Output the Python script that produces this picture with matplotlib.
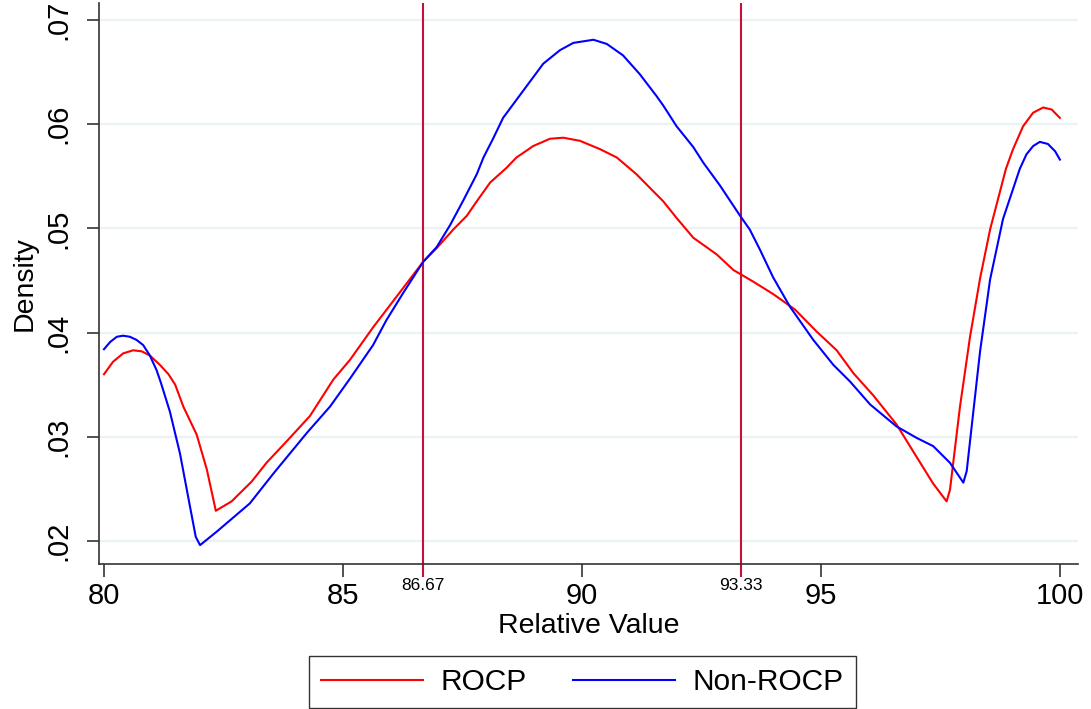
import numpy as np
import matplotlib.pyplot as plt

plt.rcParams['font.family'] = ['Liberation Sans', 'DejaVu Sans']

# ROCP density
rocp_x = [80.0, 80.19, 80.40, 80.61, 80.79, 80.96, 81.17, 81.35, 81.49, 81.66,
          81.94, 82.15, 82.34, 82.67, 83.09, 83.40, 83.89, 84.31, 84.80, 85.15,
          85.63, 85.98, 86.33, 86.68, 86.96, 87.31, 87.59, 87.80, 88.08, 88.42,
          88.63, 88.98, 89.33, 89.61, 89.96, 90.38, 90.73, 91.14, 91.70, 91.98,
          92.33, 92.82, 93.17, 93.58, 94.00, 94.46, 94.91, 95.33, 95.68, 96.09,
          96.58, 96.93, 97.35, 97.63, 97.70, 97.91, 98.12, 98.33, 98.54, 98.87,
          99.02, 99.23, 99.44, 99.65, 99.83, 100.0]
rocp_y = [0.0360, 0.0372, 0.0380, 0.0383, 0.0382, 0.0378, 0.0369, 0.0360, 0.0350, 0.0329,
          0.0302, 0.0269, 0.0229, 0.0238, 0.0257, 0.0275, 0.0299, 0.0320, 0.0355, 0.0374,
          0.0405, 0.0426, 0.0447, 0.0468, 0.0481, 0.0499, 0.0512, 0.0526, 0.0544, 0.0558,
          0.0568, 0.0579, 0.0586, 0.0587, 0.0584, 0.0576, 0.0568, 0.0552, 0.0526, 0.0510,
          0.0491, 0.0475, 0.0460, 0.0449, 0.0437, 0.0422, 0.0401, 0.0383, 0.0361, 0.0340,
          0.0312, 0.0286, 0.0255, 0.0238, 0.0249, 0.0329, 0.0396, 0.0452, 0.0499, 0.0557,
          0.0576, 0.0598, 0.0611, 0.0616, 0.0614, 0.0606]

# Non-ROCP density
non_x = [80.0, 80.13, 80.27, 80.40, 80.54, 80.68, 80.82, 80.96, 81.10, 81.19,
         81.38, 81.59, 81.80, 81.92, 82.01, 82.36, 83.05, 83.55, 84.25, 84.73,
         85.15, 85.63, 85.91, 86.26, 86.68, 86.96, 87.24, 87.52, 87.80, 87.94,
         88.14, 88.35, 88.77, 89.19, 89.54, 89.82, 90.24, 90.52, 90.86, 91.21,
         91.56, 91.70, 91.98, 92.33, 92.54, 92.89, 93.31, 93.51, 93.72, 94.00,
         94.35, 94.84, 95.26, 95.61, 96.03, 96.58, 97.00, 97.35, 97.70, 97.98,
         98.05, 98.33, 98.54, 98.81, 99.16, 99.30, 99.44, 99.58, 99.75, 99.90,
         100.0]
non_y = [0.0384, 0.0391, 0.0396, 0.0397, 0.0396, 0.0393, 0.0388, 0.0378, 0.0364, 0.0352,
         0.0324, 0.0284, 0.0233, 0.0204, 0.0196, 0.0209, 0.0236, 0.0265, 0.0304, 0.0329,
         0.0356, 0.0388, 0.0412, 0.0438, 0.0468, 0.0482, 0.0503, 0.0527, 0.0552, 0.0568,
         0.0586, 0.0606, 0.0632, 0.0658, 0.0671, 0.0678, 0.0681, 0.0677, 0.0666, 0.0648,
         0.0627, 0.0618, 0.0598, 0.0578, 0.0563, 0.0541, 0.0512, 0.0499, 0.0480, 0.0453,
         0.0425, 0.0393, 0.0369, 0.0353, 0.0331, 0.0310, 0.0299, 0.0291, 0.0275, 0.0256,
         0.0267, 0.0382, 0.0451, 0.0509, 0.0557, 0.0571, 0.0579, 0.0583, 0.0581, 0.0574,
         0.0566]

cutoffs = [86.67, 93.33]
cut_labels = ['86.67', '93.33']
x_ticks = [80, 85, 90, 95, 100]
y_ticks = [0.02, 0.03, 0.04, 0.05, 0.06, 0.07]
y_labels = ['.02', '.03', '.04', '.05', '.06', '.07']

cut_color = '#C4103A'

fig = plt.figure(figsize=(10.91, 7.09), dpi=100)
ax = fig.add_axes([0.0907, 0.2045, 0.8973, 0.7913])

for y in y_ticks:
    ax.axhline(y, color='#EAF2F3', lw=1.6, zorder=0)
for c in cutoffs:
    ax.axvline(c, color=cut_color, lw=1.5, zorder=1)

ax.plot(rocp_x, rocp_y, color='#FF0000', lw=1.5, label='ROCP', zorder=3)
ax.plot(non_x, non_y, color='#0000FF', lw=1.5, label='Non-ROCP', zorder=3)

ax.set_xlim(79.895, 100.377)
ax.set_ylim(0.01779, 0.07163)

ax.set_xticks(x_ticks)
ax.set_xticklabels([str(t) for t in x_ticks])
ax.set_yticks(y_ticks)
ax.set_yticklabels(y_labels, rotation=90, va='center')
ax.tick_params(axis='both', direction='out', length=9, width=1.2,
               color='#333333', labelsize=21)
ax.tick_params(axis='x', pad=4)
ax.tick_params(axis='y', pad=10)

# extra labelled ticks at the cut-offs
sec = ax.secondary_xaxis('bottom')
sec.set_xticks(cutoffs)
sec.set_xticklabels(cut_labels)
sec.tick_params(direction='out', length=9, width=1.5, color=cut_color,
                labelsize=12.5, pad=1)
sec.spines['bottom'].set_visible(False)

for s in ['top', 'right']:
    ax.spines[s].set_visible(False)
for s in ['left', 'bottom']:
    ax.spines[s].set_color('#333333')
    ax.spines[s].set_linewidth(1.2)

ax.set_xlabel('Relative Value', fontsize=20.5, labelpad=2)
ax.set_ylabel('Density', fontsize=20.5, labelpad=5)

leg = fig.legend(loc='lower center', bbox_to_anchor=(0.534, 0.0014), ncol=2,
                 fontsize=21.5, frameon=True, fancybox=False, edgecolor='black',
                 handlelength=3.4, handletextpad=0.6, columnspacing=1.55,
                 borderpad=0.4, borderaxespad=0)
leg.get_frame().set_linewidth(1.0)

fig.savefig('out.png', dpi=100)
